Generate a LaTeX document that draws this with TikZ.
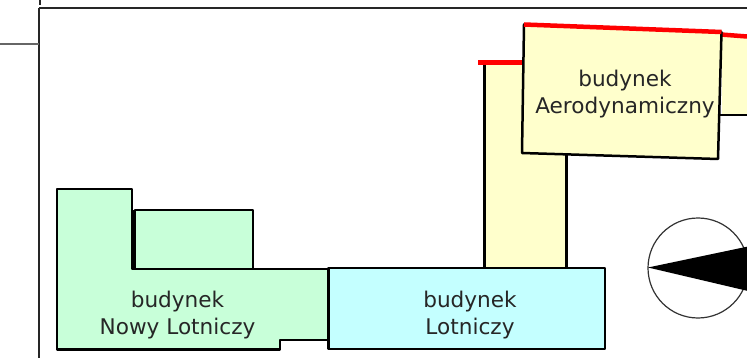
\documentclass[tikz,border=0pt]{standalone}
\usepackage{fontspec}
\setmainfont{DejaVu Sans}
\tikzset{%
  >=latex,
  wall/.style={draw=black,line width=2.5pt,line join=round},
  frame line/.style={draw=black!85,line width=2pt},
  red edge/.style={draw=red,line width=4.5pt},
  building label/.style={inner sep=0pt,outer sep=0pt,align=center,text=black!85,
    font=\fontsize{21.6}{27}\selectfont}%
}
\definecolor{newhall}{HTML}{C8FFD9}
\definecolor{mainhall}{HTML}{C4FFFF}
\definecolor{aerohall}{HTML}{FFFFCC}

\begin{document}
\begin{tikzpicture}[x=1pt,y=-1pt]
%% page and frame

\useasboundingbox (0,0) rectangle (747,358);
\clip (0,0) rectangle (747,358);
\fill[white] (0,0) rectangle (747,358);
\draw[frame line] (39.5,0) -- (39.5,5);
\draw[frame line] (39,8) -- (747,8);
\draw[frame line] (39,8) -- (39,358);
\draw[frame line,black!60] (0,44) -- (39,44);

%% yellow wings behind the Aerodynamiczny block

\fill[aerohall] (722,36) rectangle (747,115);
\draw[wall] (720,115) -- (747,115);
\fill[aerohall] (484.5,62) rectangle (566.5,268);
\draw[wall] (484.5,268) -- (484.5,62);
\draw[wall] (566.5,268) -- (566.5,150);
\draw[red edge] (478,62.5) -- (524,62.5);
\draw[red edge] (721,34.5) -- (747,36.5);

%% Aerodynamiczny block

\coordinate (aeroNW) at (524,24.5);
\coordinate (aeroNE) at (721.5,32);
\coordinate (aeroSE) at (718,159);
\coordinate (aeroSW) at (522,153);
\draw[wall,fill=aerohall] (aeroNW) -- (aeroNE) -- (aeroSE) -- (aeroSW) -- cycle;
\draw[red edge] (aeroNW) -- (aeroNE);
\node[building label] (aeroLabel) at (625,94) {budynek\\Aerodynamiczny};

%% Nowy Lotniczy block

\draw[wall,fill=newhall] (135,210) -- (253,210) -- (253,269) -- (135,269) -- cycle;
\draw[wall,fill=newhall] (57,189) -- (132,189) -- (132,269) -- (329,269)
    -- (329,340) -- (280,340) -- (280,349.5) -- (57,349.5) -- cycle;
\draw[wall] (133.5,210) -- (133.5,269);
\node[building label] (nowyLabel) at (177.5,315) {budynek\\Nowy Lotniczy};

%% Lotniczy block

\draw[wall,fill=mainhall] (328.5,268) rectangle (605,349);
\node[building label] (lotniczyLabel) at (470,315) {budynek\\Lotniczy};

%% north arrow

\coordinate (needle) at (648,267.5);
\draw[black!80,line width=1.2pt] (698,268) circle (50);
\fill[black] (needle) -- (748,246.5) -- (748,291) -- cycle;

\end{tikzpicture}
\end{document}
